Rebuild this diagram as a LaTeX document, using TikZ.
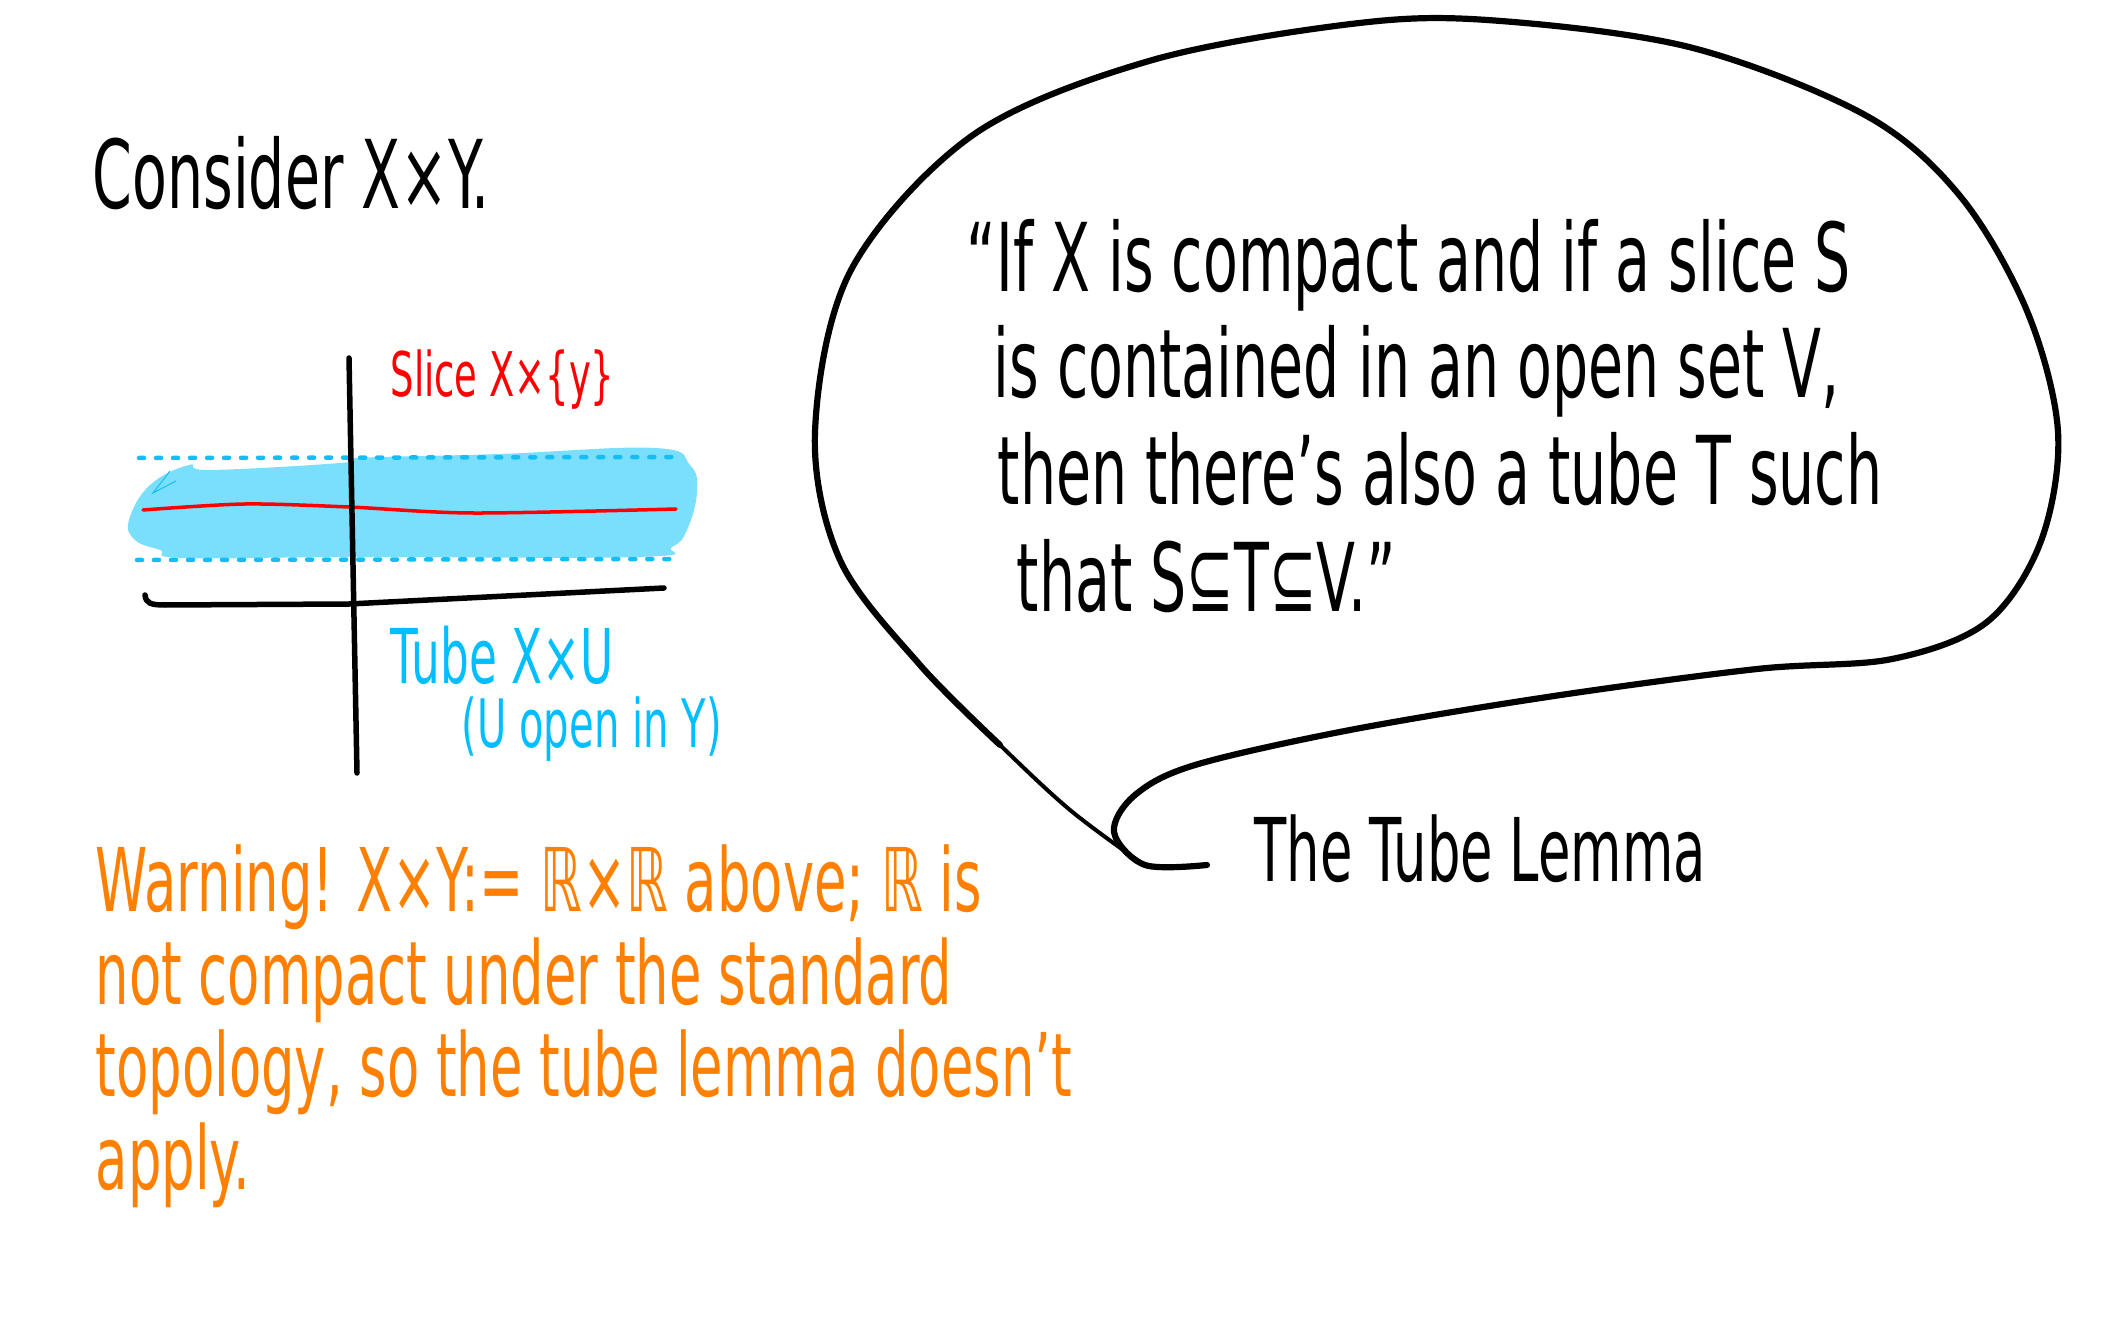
\documentclass[tikz,border=0pt]{standalone}
\usepackage{fontspec}
\newfontfamily\handfont[FakeStretch=0.6]{DejaVu Sans}
\usetikzlibrary{positioning}
\definecolor{tubeFill}{RGB}{122,223,253}
\definecolor{tubeDots}{RGB}{20,190,245}
\definecolor{tubeCyan}{RGB}{0,190,255}
\definecolor{sliceRed}{RGB}{255,0,0}
\definecolor{warnOrange}{RGB}{255,128,0}

\begin{document}
\begin{tikzpicture}[
  x=0.01cm, y=-0.01cm,
  handtext/.style={
    inner sep=0pt,
    anchor=base west,
    align=left
  },
  axisline/.style={line width=0.055cm,line cap=round},
  dotline/.style={tubeDots,line width=0.045cm,line cap=round,dash pattern=on 0.05cm off 0.12cm},
  bubble/.style={line width=0.062cm,line cap=round,line join=round}
]
  \useasboundingbox (0,0) rectangle (2119,1322);
  % the tube X x U
  \fill[tubeFill] plot[smooth cycle,tension=0.7] coordinates {(129,520) (150,485) (189,465) (210,470) (340,463) (357,458) (500,454) (655,448) (690,465) (697,492) (687,530) (672,547) (639,557) (349,557) (183,558) (160,550) (135,540)};
  \draw[tubeDots,line width=0.01cm] (170,471) -- (153,493) -- (176,481);
  \draw[dotline] (139,458) -- (674,457);
  \draw[dotline] (137,560) -- (672,559);
  % the slice
  \draw[sliceRed,line width=0.035cm,line cap=round] plot[smooth] coordinates {(143,510) (245,504) (349,507) (473,513) (676,509)};
  % axes
  \draw[axisline] (349,358) -- (357,773);
  \draw[axisline] (145,595) .. controls (146,603) and (150,605) .. (165,605) -- (349,604) -- (664,588);

  \node[handtext,font=\handfont\fontsize{27}{30}\selectfont] (consider) at (92,209) {Consider X×Y.};
  \node[handtext,sliceRed,font=\handfont\fontsize{17.5}{20}\selectfont] (slicelabel) at (390,397) {Slice X×\{y\}};
  \node[handtext,tubeCyan,font=\handfont\fontsize{21.5}{24}\selectfont] (tubelabel) at (390,683) {Tube X×U};
  \node[handtext,tubeCyan,font=\handfont\fontsize{19}{22}\selectfont] (openlabel) at (461,747) {(U open in Y)};
  % multi-line nodes sit on their last baseline
  \node[handtext,warnOrange,font=\handfont\fontsize{25}{26.3}\selectfont] (warning) at (95,1189)
    {Warning! X×Y:= ℝ×ℝ above; ℝ is\\not compact under the standard\\topology, so the tube lemma doesn’t\\apply.};
  \node[handtext,font=\handfont\fontsize{27}{30.3}\selectfont] (lemmatext) at (966,611)
    {“If X is compact and if a slice S\\\hspace*{0.27cm}is contained in an open set V,\\\hspace*{0.31cm}then there’s also a tube T such\\\hspace*{0.5cm}that S⊆T⊆V.”};
  \node[handtext,font=\handfont\fontsize{25}{30}\selectfont] (lemmaname) at (1254,881) {The Tube Lemma};

  % speech bubble, tail ends left of the name
  \coordinate (tailend) at ([xshift=-0.47cm,yshift=0.16cm]lemmaname.base west);
  \draw[bubble] plot[smooth,tension=0.55] coordinates {(tailend) (1145,865) (1114,832) (1135,795) (1195,765) (1350,730) (1554,696) (1757,669) (1892,659) (1987,622) (2041,541) (2058,432) (2027,311) (1960,196) (1865,115) (1689,47) (1487,20) (1351,24) (1149,61) (973,135) (851,270) (815,432) (840,560) (920,665) (1000,745)};
  \draw[line width=0.04cm,line cap=round] plot[smooth,tension=0.55] coordinates {(920,665) (1000,745) (1070,810) (1140,862)};
\end{tikzpicture}
\end{document}
